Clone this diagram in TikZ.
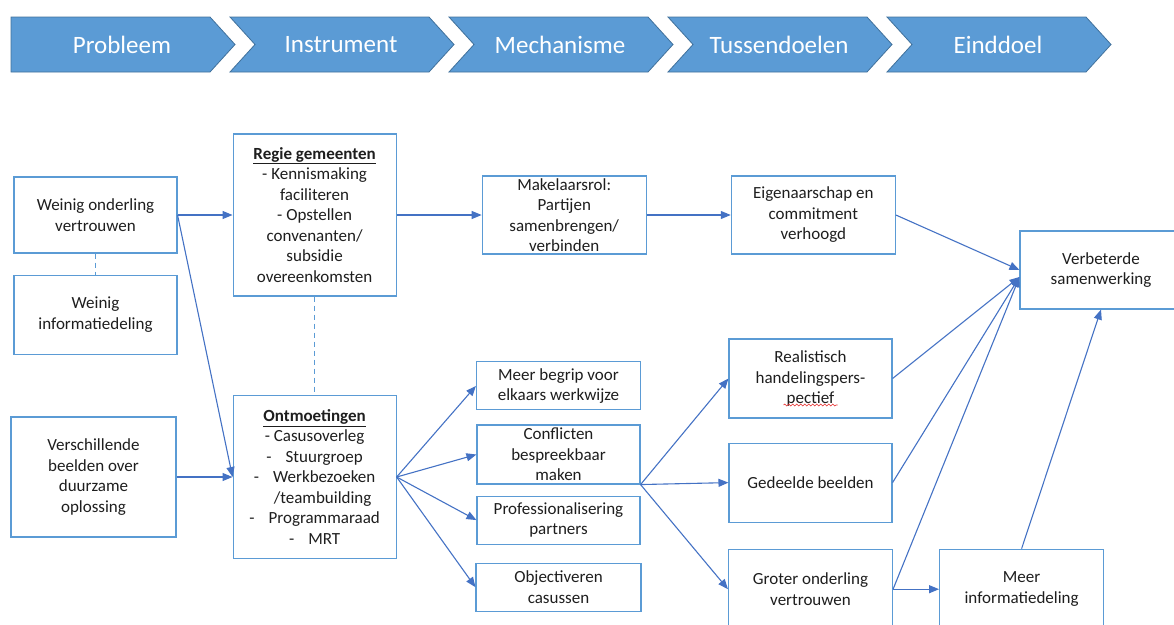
\documentclass[tikz,border=0pt]{standalone}
\usepackage{fontspec}
\setmainfont{Carlito}
\usepackage{xcolor}
\usetikzlibrary{positioning, arrows.meta, calc, decorations.pathmorphing}
\definecolor{boxblue}{RGB}{91, 155, 213}
\definecolor{arrowblue}{RGB}{68, 114, 196}
\definecolor{chevronedge}{RGB}{65, 113, 156}
\definecolor{textgrey}{RGB}{30, 30, 30}
\definecolor{spellred}{RGB}{230, 40, 40}

\begin{document}
\begin{tikzpicture}[
    x=1pt, y=-1pt,
    box/.style={
      rectangle,
      draw=boxblue,
      line width=1.1pt,
      fill=white,
      minimum width=163pt,
      minimum height=78pt,
      inner sep=0pt,
      align=center,
      text=textgrey,
      font=\fontsize{17}{20.5}\selectfont
    },
    chevron/.style={fill=boxblue, draw=chevronedge, line width=0.8pt},
    chevtext/.style={text=white, font=\fontsize{25}{30}\selectfont},
    arrow/.style={-{Triangle[length=10pt, width=8pt]}, line width=1.1pt, draw=arrowblue},
    link/.style={dash pattern=on 5pt off 4pt, line width=1.1pt, draw=boxblue}
  ]
    \path[use as bounding box, clip] (0,0) rectangle (1174,624);

    % phases
    \foreach \stage [count=\i from 0] in {Probleem, Instrument, Mechanisme, Tussendoelen, Einddoel} {
      \pgfmathsetmacro\lft{11+219*\i}
      \pgfmathsetmacro\notch{ifthenelse(\i==0,0,25)}
      \draw[chevron] (\lft,17) -- (\lft+199,17) -- (\lft+224,44.5) -- (\lft+199,72)
        -- (\lft,72) -- (\lft+\notch,44.5) -- cycle;
      \node[chevtext] (phase\i) at (\lft+111,44.5) {\stage};
    }

    % probleem
    \node[box, minimum height=76pt] (wov) at (95.5,215) {Weinig onderling\\vertrouwen};
    \node[box, below=21pt of wov, minimum height=79pt] (wid) {Weinig\\informatiedeling};
    \node[box, minimum width=165pt, minimum height=120pt] (vb) at (93.5,477)
      {Verschillende\\beelden over\\duurzame\\oplossing};

    % instrument
    \node[box, right=55pt of wov, minimum height=162pt] (regie)
      {\textbf{\underline{Regie gemeenten}}\\- Kennismaking\\faciliteren\\- Opstellen\\convenanten/\\subsidie\\overeenkomsten};
    \node[box, right=56pt of vb, minimum height=163pt] (ontm)
      {\textbf{\underline{Ontmoetingen}}\\- Casusoverleg\\-\hspace{14pt}Stuurgroep\\-\hspace{14pt}Werkbezoeken\\\hspace{16pt}/teambuilding\\-\hspace{14pt}Programmaraad\\-\hspace{14pt}MRT};

    % mechanisme
    \node[box, right=85pt of regie, minimum width=164pt] (mak)
      {Makelaarsrol:\\Partijen\\samenbrengen/\\verbinden};
    \node[box, minimum height=59pt] (conf) at (558.5,454.5) {Conflicten\\bespreekbaar\\maken};
    \node[box, above=14pt of conf, minimum width=164pt, minimum height=48pt] (mb)
      {Meer begrip voor\\elkaars werkwijze};
    \node[box, below=11pt of conf, minimum height=48pt] (prof) {Professionalisering\\partners};
    \node[box, below=18pt of prof, minimum width=165pt, minimum height=48pt] (obj)
      {Objectiveren\\casussen};

    % tussendoelen
    \node[box, right=84pt of mak, minimum width=164pt] (eig) {Eigenaarschap en\\commitment\\verhoogd};
    \node[box, minimum height=79pt] (real) at (810.5,378.5) {Realistisch\\handelingspers-\\pectief};
    \node[box, below=24pt of real, minimum height=79pt] (ged) {Gedeelde beelden};
    \node[box, below=26pt of ged, minimum width=164pt, minimum height=80pt] (gov)
      {Groter onderling\\vertrouwen};

    % einddoel
    \node[box, right=46pt of gov, minimum width=164pt, minimum height=80pt] (mi)
      {Meer\\informatiedeling};
    \node[box, minimum width=162pt] (vs) at (1101,270) {Verbeterde\\samenwerking};
    \coordinate (vsin) at ($(vs.west)+(0,7)$);

    % spell check mark
    \draw[spellred, line width=0.6pt, decorate, decoration={snake, amplitude=0.9pt, segment length=4pt}]
      ($(real.center)+(-27,26.5)$) -- ($(real.center)+(27,26.5)$);

    \draw[link] (wov) -- (wid);
    \draw[link] (regie) -- (ontm);

    \draw[arrow] (wov.east) -- (regie.west);
    \draw[arrow] (wov.east) -- (ontm.west);
    \draw[arrow] (vb) -- (ontm);
    \draw[arrow] (regie) -- (mak);
    \draw[arrow] (mak) -- (eig);

    \foreach \target in {mb, conf, prof, obj}
      \draw[arrow] (ontm.east) -- (\target.west);
    \foreach \target in {real, ged, gov}
      \draw[arrow] (conf.south east) -- (\target.west);

    \draw[arrow] (eig.east) -- (vs.west);
    \foreach \source in {real, ged, gov}
      \draw[arrow] (\source.east) -- (vsin);
    \draw[arrow] (gov) -- (mi);
    \draw[arrow] (mi.north) -- (vs.south);
  \end{tikzpicture}
\end{document}
